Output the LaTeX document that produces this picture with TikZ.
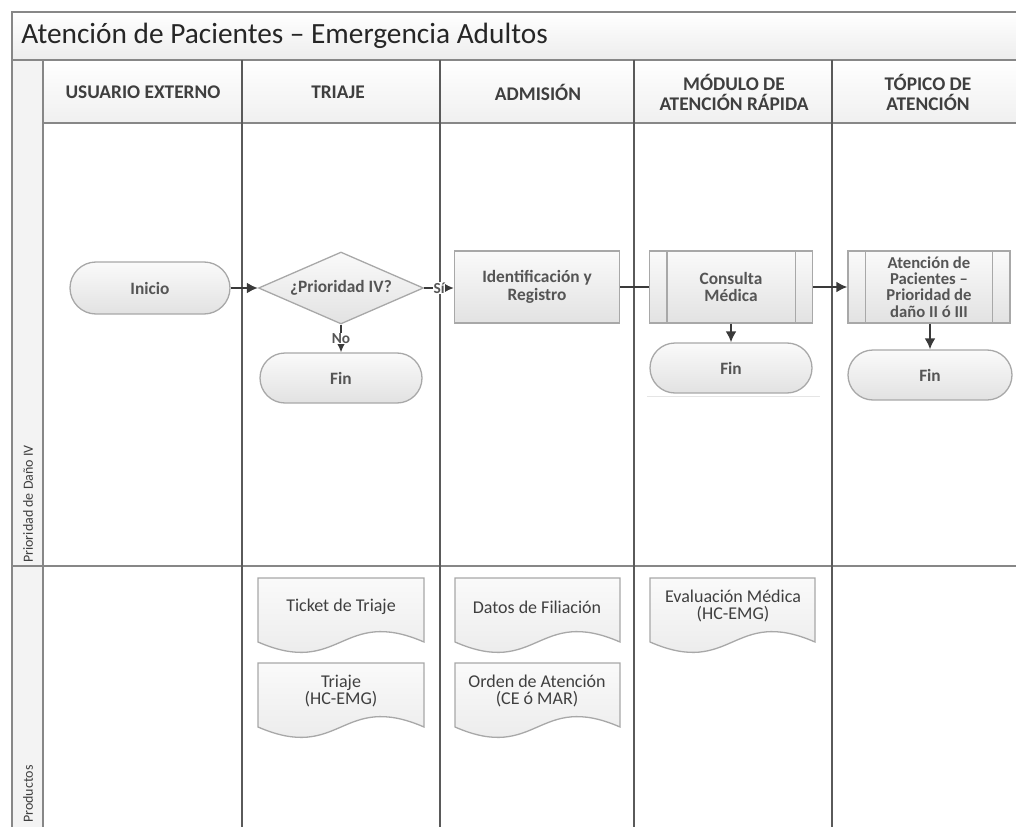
\documentclass[tikz,border=0pt]{standalone}
\usepackage{fontspec}
\setmainfont{Carlito}
\usetikzlibrary{shapes.geometric,arrows.meta,calc}

% one drawing unit = 0.75pt
\newlength{\pu}\setlength{\pu}{0.75pt}

\definecolor{framec}{HTML}{878787}
\definecolor{lanec}{HTML}{5A5A5A}
\definecolor{boxline}{HTML}{A8A8A8}
\definecolor{boxtop}{HTML}{FAFAFA}
\definecolor{boxbot}{HTML}{E2E2E2}
\definecolor{nodetext}{HTML}{555555}
\definecolor{headtext}{HTML}{3F3F3F}
\definecolor{arrowc}{HTML}{3A3A3A}
\definecolor{stripc}{HTML}{F3F3F3}

\tikzset{
  shapebase/.style={draw=boxline, line width=1.3\pu, top color=boxtop, bottom color=boxbot,
    text=nodetext, font=\bfseries\fontsize{13}{13}\selectfont, align=center, inner sep=0pt},
  terminal/.style={shapebase, rectangle, minimum width=162\pu, minimum height=50\pu, rounded corners=25\pu},
  procbox/.style={shapebase, rectangle, minimum width=165\pu, minimum height=72\pu},
  subproc/.style={procbox, minimum width=163\pu},
  decision/.style={shapebase, diamond, aspect=2.3, minimum width=165\pu, minimum height=72\pu},
  doctext/.style={text=headtext, font=\fontsize{13.5}{13.2}\selectfont, align=center, inner sep=0pt},
  docline/.style={draw=boxline, line width=1.3\pu, top color=boxtop, bottom color=boxbot!80!white},
  headtxt/.style={text=headtext, font=\bfseries\fontsize{14.5}{15}\selectfont, align=center, inner sep=0pt},
  lanetxt/.style={text=headtext, font=\fontsize{10.5}{11}\selectfont, rotate=90, anchor=west, inner sep=0pt},
  frameline/.style={draw=framec, line width=1.8\pu},
  laneline/.style={draw=lanec, line width=2\pu},
  flow/.style={draw=arrowc, line width=1.65pt, -{Latex[length=8.2pt,width=8.2pt]}},
  plainflow/.style={draw=arrowc, line width=1.65pt},
  lbl/.style={fill=white, text=nodetext, font=\bfseries\fontsize{11.5}{12}\selectfont, inner sep=0.6pt}
}

% document symbol with a wavy lower edge: x1, top, x2, lower end of the sides
\newcommand{\docpath}[4]{%
  \path[docline] (#1,#2) -- (#3,#2) -- (#3,#4)
    .. controls ({(#1+#3)/2},{#4-36}) and ({(#1+#3)/2},{#4+36}) .. (#1,#4) -- cycle;}

\begin{document}
\begin{tikzpicture}[x=0.75pt,y=-0.75pt]
  \useasboundingbox (0,0) rectangle (1016,827);
  \clip (0,0) rectangle (1016,827);

  % backgrounds of title bar, header row and lane-label strip
  \shade[top color=white, bottom color=black!7] (12,12) rectangle (1040,60);
  \shade[top color=white, bottom color=black!6] (43,60) rectangle (1040,123);
  \fill[stripc] (12,60) rectangle (43,850);

  % pool frame
  \draw[frameline] (1040,12) -- (12,12) -- (12,850);
  \draw[frameline] (12,60) -- (1040,60);
  \draw[frameline] (43,60) -- (43,850);
  \draw[frameline] (43,123) -- (1040,123);
  \draw[frameline] (12,566) -- (1040,566);

  % column separators
  \foreach \cx in {242,440,634,832}
    \draw[laneline] (\cx,60) -- (\cx,850);

  % title and column headers
  \node[anchor=west, text=black!85, font=\fontsize{22}{24}\selectfont, inner sep=0pt] (title) at (21,36)
    {Atención de Pacientes – Emergencia Adultos};
  \node[headtxt] (h1) at (143,92) {USUARIO EXTERNO};
  \node[headtxt] (h2) at (338,92) {TRIAJE};
  \node[headtxt] (h3) at (538,92) {ADMISIÓN};
  \node[headtxt] (h4) at (734,92) {MÓDULO DE\\ATENCIÓN RÁPIDA};
  \node[headtxt] (h5) at (928,92) {TÓPICO DE\\ATENCIÓN};

  % lane labels
  \node[lanetxt] (l1) at (28,563) {Prioridad de Daño IV};
  \node[lanetxt] (l2) at (28,823) {Productos};

  % process flow
  \node[terminal, minimum width=160\pu, minimum height=52\pu, rounded corners=26\pu] (inicio) at (150,288) {Inicio};
  \node[decision] (prio) at (341,288) {¿Prioridad IV?};
  \node[terminal] (fin1) at (341,378) {Fin};
  \node[procbox] (ident) at (537,287) {Identificación y\\Registro};
  \node[subproc] (consulta) at (731,287) {Consulta\\Médica};
  \draw[boxline, line width=1.3\pu] ([xshift=18\pu]consulta.north west) -- ([xshift=18\pu]consulta.south west);
  \draw[boxline, line width=1.3\pu] ([xshift=-18\pu]consulta.north east) -- ([xshift=-18\pu]consulta.south east);
  \node[terminal] (fin2) at (731,368) {Fin};
  \draw[black!10, line width=1\pu] (647,396) -- (820,396);
  \node[subproc, minimum width=162\pu, font=\bfseries\fontsize{12.5}{12.2}\selectfont] (atencion) at (929,287)
    {Atención de\\Pacientes –\\Prioridad de\\daño II ó III};
  \draw[boxline, line width=1.3\pu] ([xshift=18\pu]atencion.north west) -- ([xshift=18\pu]atencion.south west);
  \draw[boxline, line width=1.3\pu] ([xshift=-18\pu]atencion.north east) -- ([xshift=-18\pu]atencion.south east);
  \node[terminal, minimum width=164\pu] (fin3) at (930,375) {Fin};

  \draw[flow] (inicio) -- (prio);
  \draw[flow] (prio.east) -- node[lbl] {Sí} (prio.east -| ident.west);
  \draw[flow] (prio) -- node[lbl] {No} (fin1);
  \draw[plainflow] (ident) -- (consulta);
  \draw[flow] (consulta) -- (atencion);
  \draw[flow] (consulta) -- (fin2);
  \draw[flow] (atencion.south -| fin3) -- (fin3);

  % products
  \docpath{258}{578}{424}{642}
  \node[doctext] (ticket) at (341,607) {Ticket de Triaje};
  \docpath{258}{663}{424}{727}
  \node[doctext] (triaje) at (341,691) {Triaje\\(HC-EMG)};
  \docpath{455}{578}{620}{642}
  \node[doctext] (datos) at (537,607) {Datos de Filiación};
  \docpath{455}{663}{620}{727}
  \node[doctext] (orden) at (537,691) {Orden de Atención\\(CE ó MAR)};
  \docpath{650}{578}{815}{642}
  \node[doctext] (evalm) at (733,606) {Evaluación Médica\\(HC-EMG)};
\end{tikzpicture}
\end{document}
